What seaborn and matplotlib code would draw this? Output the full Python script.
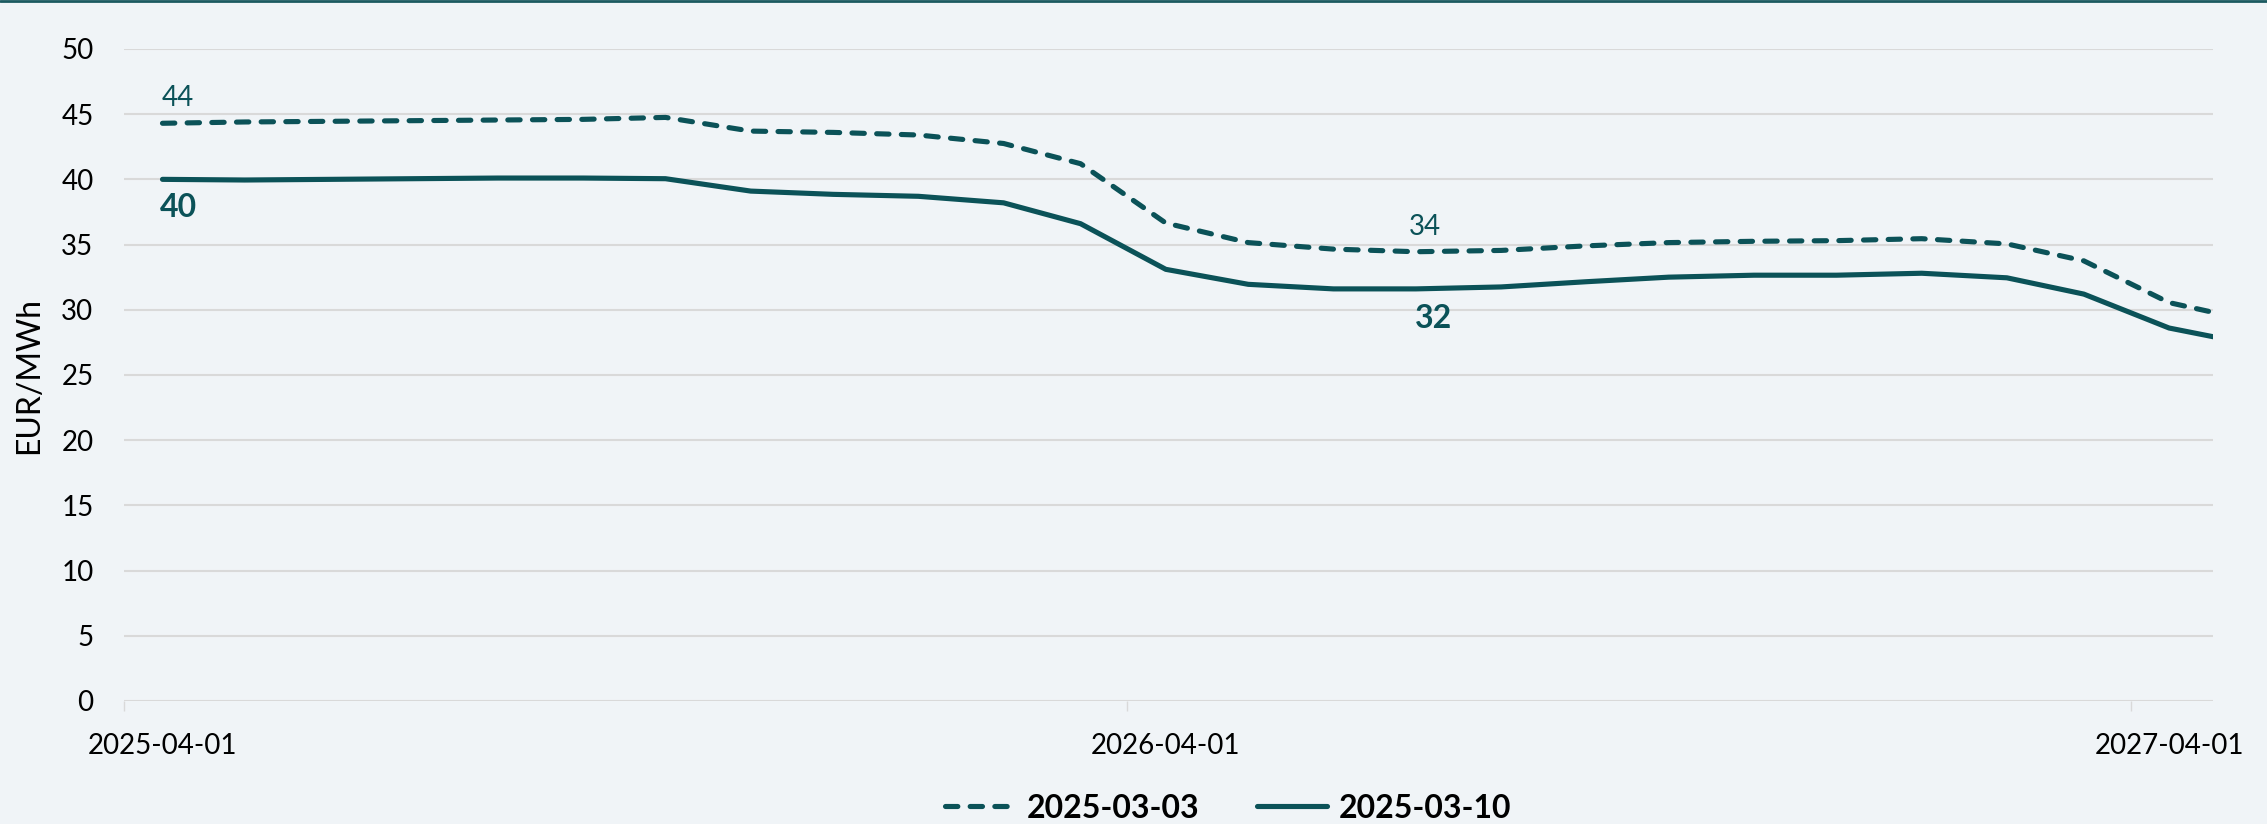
import numpy as np
import pandas as pd
import matplotlib.pyplot as plt
import matplotlib.dates as mdates
from matplotlib.lines import Line2D
import seaborn as sns

# Data: monthly forward curves (EUR/MWh), points sit mid-month
months = pd.date_range("2025-04-01", periods=26, freq="MS") + pd.Timedelta(days=14)
curve_0303 = [44.3, 44.4, 44.45, 44.5, 44.55, 44.6, 44.75, 43.7, 43.6, 43.4, 42.75, 41.2,
              36.65, 35.15, 34.65, 34.45, 34.55, 34.9, 35.15, 35.25, 35.3, 35.45, 35.05,
              33.75, 30.55, 29.15]
curve_0310 = [40.0, 39.95, 40.0, 40.05, 40.1, 40.1, 40.05, 39.1, 38.85, 38.7, 38.2, 36.6,
              33.1, 31.95, 31.6, 31.6, 31.75, 32.15, 32.5, 32.65, 32.65, 32.8, 32.45,
              31.2, 28.6, 27.35]
series_names = ["2025-03-03", "2025-03-10"]
tick_dates = ["2025-04-01", "2026-04-01", "2027-04-01"]
label_idx = [0, 15]

teal = "#0B5258"
bg = "#F0F4F7"
grid = "#D9D9D9"

df = pd.concat([
    pd.DataFrame({"date": months, "price": curve_0303, "curve": series_names[0]}),
    pd.DataFrame({"date": months, "price": curve_0310, "curve": series_names[1]}),
], ignore_index=True)

sns.set_theme(style="whitegrid")
plt.rcParams["font.family"] = ["Lato", "DejaVu Sans"]
plt.rcParams["text.color"] = "black"

fig = plt.figure(figsize=(22.67, 8.24), dpi=100, facecolor=bg)
ax = fig.add_axes([0.0547, 0.1493, 0.9215, 0.7913], facecolor=bg)

sns.lineplot(data=df, x="date", y="price", hue="curve", style="curve",
             palette={n: teal for n in series_names},
             dashes={series_names[0]: (2.4, 2.4), series_names[1]: ""},
             linewidth=3.7, legend=False, ax=ax)
for ln in ax.get_lines():
    ln.set_dash_capstyle("round")
    ln.set_solid_capstyle("round")

# axes styling
ax.set_ylim(0, 50)
ax.set_yticks(np.arange(0, 51, 5))
ax.set_xlim(pd.Timestamp("2025-04-01"), pd.Timestamp("2027-05-01"))
ax.grid(axis="x", visible=False)
ax.grid(axis="y", color=grid, linewidth=1.5)
for s in ax.spines.values():
    s.set_visible(False)

# tick marks on the 1st, labels centred on the April data point
tick_pos = [pd.Timestamp(d) for d in tick_dates]
ax.set_xticks([mdates.date2num(t + pd.Timedelta(days=14)) for t in tick_pos])
ax.set_xticklabels(tick_dates)
ax.set_xticks([mdates.date2num(t) for t in tick_pos], minor=True)
ax.tick_params(axis="x", which="major", length=0, pad=23, labelsize=20, labelcolor="black")
ax.tick_params(axis="x", which="minor", length=7.5, width=1, color=grid, bottom=True)
ax.tick_params(axis="y", length=0, pad=22, labelsize=20, labelcolor="black")

ax.set_xlabel("")
ax.set_ylabel("")
fig.text(29 / 2267, 1 - 376 / 824, "EUR/MWh", rotation=90, ha="center", va="center",
         fontsize=23, color="black")

# data labels
offsets_top = [(10.8, 18), (6.5, 18)]
offsets_bot = [(11.5, -20), (13, -21)]
for i, (o_t, o_b) in zip(label_idx, zip(offsets_top, offsets_bot)):
    ax.annotate(f"{curve_0303[i]:.0f}", xy=(months[i], curve_0303[i]), xytext=o_t,
                textcoords="offset points", ha="center", va="center",
                fontsize=20, color=teal)
    ax.annotate(f"{curve_0310[i]:.0f}", xy=(months[i], curve_0310[i]), xytext=o_b,
                textcoords="offset points", ha="center", va="center",
                fontsize=23, fontweight="bold", color=teal)

# legend
handles = [
    Line2D([], [], color=teal, lw=3.7, dashes=(2.4, 2.4), dash_capstyle="round"),
    Line2D([], [], color=teal, lw=3.7, solid_capstyle="round"),
]
leg = fig.legend(handles, series_names, loc="center", bbox_to_anchor=(0.5417, 0.0194),
                 ncol=2, frameon=False, handlelength=2.2, handletextpad=0.37,
                 columnspacing=1.8, prop={"weight": "bold", "size": 23})
for t in leg.get_texts():
    t.set_color("black")

# top border
fig.add_artist(Line2D([0, 1], [1 - 1.2 / 824] * 2, transform=fig.transFigure,
                      color="#1B5A60", lw=2.0))

fig.savefig("out.png", dpi=100, facecolor=bg)
